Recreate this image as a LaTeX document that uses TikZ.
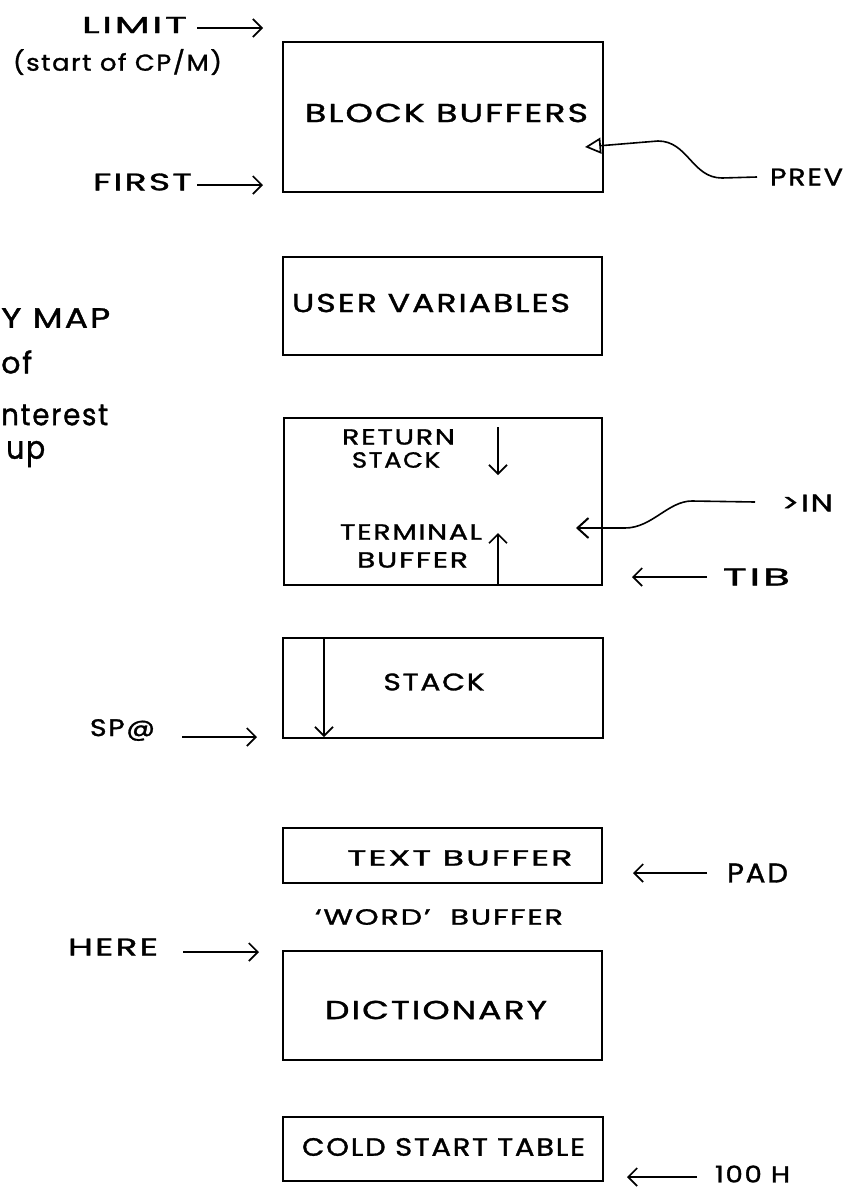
\documentclass[tikz,border=0pt]{standalone}
\usepackage{fontspec}
\setmainfont{Poppins}[LetterSpace=6, FakeBold=1.2]
\usetikzlibrary{arrows.meta}
\newcommand\tw[2]{\resizebox{#1pt}{\height}{#2}}
\newcommand\fsz[1]{\fontsize{#1}{#1}\selectfont}
\tikzset{
  memblk/.style={draw, line width=1.7pt, inner sep=0pt},
  lbl/.style={inner sep=0pt, text=black},
  ptr/.style={line width=1.6pt, -{Straight Barb[length=9pt,width=18pt,line width=1.7pt]}},
  curvptr/.style={line width=1.6pt, -{Straight Barb[length=11pt,width=20pt,line width=2pt]}},
  prevptr/.style={line width=1.6pt, -{Triangle[open,length=16pt,width=16pt,line width=1.7pt]}},
}
\begin{document}
\begin{tikzpicture}[x=1pt,y=-1pt]
\useasboundingbox (0,0) rectangle (846,1189);
\fill[white] (0,0) rectangle (846,1189);

% memory blocks
\node[memblk, minimum width=320pt, minimum height=150pt] (blk) at (443,117) {};
\node[memblk, minimum width=319pt, minimum height=98pt] (usr) at (442.5,306) {};
\node[memblk, minimum width=318pt, minimum height=167pt] (ret) at (443,501.5) {};
\node[memblk, minimum width=320pt, minimum height=100pt] (stk) at (443,688) {};
\node[memblk, minimum width=319pt, minimum height=55pt] (txt) at (442.5,855.5) {};
\node[memblk, minimum width=319pt, minimum height=109pt] (dic) at (442.5,1005.5) {};
\node[memblk, minimum width=320pt, minimum height=64pt] (cold) at (443,1149) {};

% texts in blocks
\node[lbl, font=\fsz{26}] (tblk) at (446.5,113) {\tw{283}{BLOCK BUFFERS}};
\node[lbl, font=\fsz{26}] (tusr) at (431,303) {\tw{278}{USER VARIABLES}};
\node[lbl, font=\fsz{22}] (tret1) at (398.5,437) {\tw{113}{RETURN}};
\node[lbl, font=\fsz{22}] (tret2) at (396,460) {\tw{88}{STACK}};
\node[lbl, font=\fsz{22}] (tterm1) at (411,532) {\tw{142}{TERMINAL}};
\node[lbl, font=\fsz{22}] (tterm2) at (412.5,560) {\tw{111}{BUFFER}};
\node[lbl, font=\fsz{24}] (tstk) at (434,682) {\tw{101}{STACK}};
\node[lbl, font=\fsz{22}] (ttxt) at (460,858) {\tw{225}{TEXT BUFFER}};
\node[lbl, font=\fsz{22}] (tword) at (439,917) {\tw{248}{`WORD'\ \ BUFFER}};
\node[lbl, font=\fsz{26}] (tdic) at (436,1010) {\tw{222}{DICTIONARY}};
\node[lbl, font=\fsz{25}] (tcold) at (443.5,1147) {\tw{283}{COLD START TABLE}};

% left pointer labels
\node[lbl, font=\fsz{23}] (limit) at (134.5,25) {\tw{105}{LIMIT}};
\node[lbl, font=\fsz{23}] (cpm) at (117.5,62) {\tw{209}{(start of CP/M)}};
\node[lbl, font=\fsz{24}] (first) at (142.5,182) {\tw{99}{FIRST}};
\node[lbl, font=\fsz{24}] (spat) at (122.5,730) {\tw{65}{SP@}};
\node[lbl, font=\fsz{24}] (here) at (113,947) {\tw{90}{HERE}};

% right pointer labels
\node[lbl, font=\fsz{24}] (prev) at (806.5,177) {\tw{73}{PREV}};
\node[lbl, font=\fsz{24}] (in) at (807.5,503) {\tw{51}{>IN}};
\node[lbl, font=\fsz{24}] (tib) at (756.5,577) {\tw{67}{TIB}};
\node[lbl, font=\fsz{27}] (pad) at (757.5,873) {\tw{61}{PAD}};
\node[lbl, font=\fsz{23}] (hund) at (752.5,1174) {\tw{75}{100 H}};

% cut-off title on the left
\node[lbl, font=\fsz{28}, anchor=west] (t1) at (1,318) {\tw{109}{Y MAP}};
\node[lbl, font=\fsz{30}, anchor=west] (t2) at (1,362) {\tw{31}{of}};
\node[lbl, font=\fsz{30}, anchor=west] (t3) at (1,415) {\tw{107}{nterest}};
\node[lbl, font=\fsz{32}, anchor=west] (t4) at (6,454) {\tw{39}{up}};

% arrow coordinates
\coordinate (limA) at (197,28);  \coordinate (limB) at (263,28);
\coordinate (firA) at (197,185); \coordinate (firB) at (263,185);
\coordinate (spA) at (182,737);  \coordinate (spB) at (257,737);
\coordinate (herA) at (183,952); \coordinate (herB) at (259,952);
\coordinate (tibA) at (707,577); \coordinate (tibB) at (632,577);
\coordinate (padA) at (707,873); \coordinate (padB) at (633,873);
\coordinate (hunA) at (697,1177); \coordinate (hunB) at (627,1177);
\coordinate (prevA) at (757,177); \coordinate (prevB) at (585,147);
\coordinate (inA) at (755,502); \coordinate (inB) at (576,528);
\coordinate (rdA) at (498,427); \coordinate (rdB) at (498,475);
\coordinate (tuA) at (498,585); \coordinate (tuB) at (498,533);
\coordinate (sdA) at (324,638); \coordinate (sdB) at (324,737);

\draw[ptr] (limA) -- (limB);
\draw[ptr] (firA) -- (firB);
\draw[ptr] (spA) -- (spB);
\draw[ptr] (herA) -- (herB);
\draw[ptr] (tibA) -- (tibB);
\draw[ptr] (padA) -- (padB);
\draw[ptr] (hunA) -- (hunB);
\draw[ptr] (rdA) -- (rdB);
\draw[ptr] (tuA) -- (tuB);
\draw[ptr] (sdA) -- (sdB);
\draw[prevptr] (prevA) -- (722,178) .. controls (692,178) and (688,141) .. (658,141) -- (prevB);
\draw[curvptr] (inA) -- (692,501) .. controls (668,501) and (652,528) .. (625,528) -- (inB);
\end{tikzpicture}
\end{document}
